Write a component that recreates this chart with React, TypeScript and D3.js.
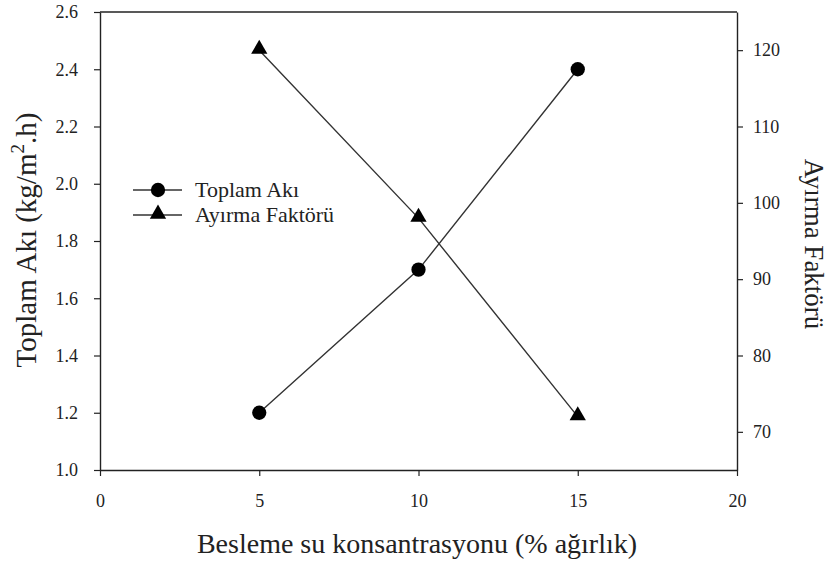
import React, { useEffect, useRef } from 'react'
import * as d3 from 'd3'

const concentration = [5, 10, 15]
const toplamAki = [1.2, 1.7, 2.4]
const ayirmaFaktoru = [120, 98, 72]
const xTicks = [0, 5, 10, 15, 20]
const leftTicks = [1.0, 1.2, 1.4, 1.6, 1.8, 2.0, 2.2, 2.4, 2.6]
const rightTicks = [70, 80, 90, 100, 110, 120]

const W = 828
const H = 567
const margin = { top: 12, right: 91, bottom: 97, left: 100 }
const font = "'Liberation Serif', 'Times New Roman', serif"
const ink = '#222'

export default function App() {
    const svgNode = useRef<SVGSVGElement>(null)

    useEffect(() => {
        const svg = d3.select(svgNode.current)
        svg.selectAll('*').remove()

        const x = d3.scaleLinear().domain([0, 20]).range([margin.left, W - margin.right])
        const yL = d3.scaleLinear().domain([1.0, 2.6]).range([H - margin.bottom, margin.top])
        const yR = d3.scaleLinear().domain([65, 125]).range([H - margin.bottom, margin.top])

        const styleAxis = (g: any) => {
            g.attr('font-family', font)
            g.selectAll('path').attr('stroke', ink).attr('stroke-width', 1.4)
            g.selectAll('line').attr('stroke', ink).attr('stroke-width', 1.2)
            g.selectAll('text').attr('fill', ink).style('font-family', font).style('font-size', '18px')
        }

        // top frame line
        svg.append('line')
            .attr('x1', x(0)).attr('x2', x(20))
            .attr('y1', margin.top).attr('y2', margin.top)
            .attr('stroke', ink).attr('stroke-width', 1.4)

        svg.append('g')
            .attr('transform', `translate(0,${H - margin.bottom})`)
            .call(d3.axisBottom(x).tickValues(xTicks).tickSize(6).tickSizeOuter(0).tickPadding(18).tickFormat(d3.format('d')))
            .call(styleAxis)

        svg.append('g')
            .attr('transform', `translate(${margin.left},0)`)
            .call(d3.axisLeft(yL).tickValues(leftTicks).tickSize(6).tickSizeOuter(0).tickPadding(16).tickFormat(d3.format('.1f')))
            .call(styleAxis)

        svg.append('g')
            .attr('transform', `translate(${W - margin.right},0)`)
            .call(d3.axisRight(yR).tickValues(rightTicks).tickSize(6).tickSizeOuter(0).tickPadding(10).tickFormat(d3.format('d')))
            .call(styleAxis)

        const lineL = d3.line<number>().x((d, i) => x(concentration[i])).y(d => yL(d))
        const lineR = d3.line<number>().x((d, i) => x(concentration[i])).y(d => yR(d))

        svg.append('path').attr('d', lineL(toplamAki)).attr('fill', 'none').attr('stroke', '#333').attr('stroke-width', 1.4)
        svg.append('path').attr('d', lineR(ayirmaFaktoru)).attr('fill', 'none').attr('stroke', '#333').attr('stroke-width', 1.4)

        const circle = d3.symbol().type(d3.symbolCircle).size(160)
        const tri = d3.symbol().type(d3.symbolTriangle).size(115)

        svg.selectAll('.pt-l').data(toplamAki).join('path')
            .attr('class', 'pt-l')
            .attr('d', circle)
            .attr('transform', (d, i) => `translate(${x(concentration[i])},${yL(d)})`)
            .attr('fill', '#000')

        svg.selectAll('.pt-r').data(ayirmaFaktoru).join('path')
            .attr('class', 'pt-r')
            .attr('d', tri)
            .attr('transform', (d, i) => `translate(${x(concentration[i])},${yR(d) - 1})`)
            .attr('fill', '#000')

        // legend
        const legend = svg.append('g').attr('transform', 'translate(133,190)')
        const items = [
            { label: 'Toplam Akı', sym: circle },
            { label: 'Ayırma Faktörü', sym: tri },
        ]
        items.forEach((it, i) => {
            const g = legend.append('g').attr('transform', `translate(0,${i * 25})`)
            g.append('line').attr('x1', 0).attr('x2', 49).attr('stroke', '#333').attr('stroke-width', 1.4)
            g.append('path').attr('d', it.sym).attr('transform', `translate(25,${i === 1 ? -1 : 0})`).attr('fill', '#000')
            g.append('text').attr('x', 62).attr('y', 7)
                .style('font-family', font).style('font-size', '22px').attr('fill', ink)
                .text(it.label)
        })

        // axis titles
        svg.append('text')
            .attr('x', 417).attr('y', 553)
            .attr('text-anchor', 'middle')
            .style('font-family', font).style('font-size', '28px').attr('fill', ink)
            .text('Besleme su konsantrasyonu (% ağırlık)')

        const lt = svg.append('text')
            .attr('transform', `translate(36,240) rotate(-90)`)
            .attr('text-anchor', 'middle')
            .style('font-family', font).style('font-size', '29px').attr('fill', ink)
        lt.append('tspan').text('Toplam Akı (kg/m')
        lt.append('tspan').attr('dy', -12).style('font-size', '19px').text('2')
        lt.append('tspan').attr('dy', 12).text('.h)')

        svg.append('text')
            .attr('transform', `translate(805,244) rotate(90)`)
            .attr('text-anchor', 'middle')
            .style('font-family', font).style('font-size', '27px').attr('fill', ink)
            .text('Ayırma Faktörü')
    }, [])

    return (
        <svg ref={svgNode} width={W} height={H}
            style={{ position: 'absolute', left: 0, top: 0, background: '#fff' }} />
    )
}
